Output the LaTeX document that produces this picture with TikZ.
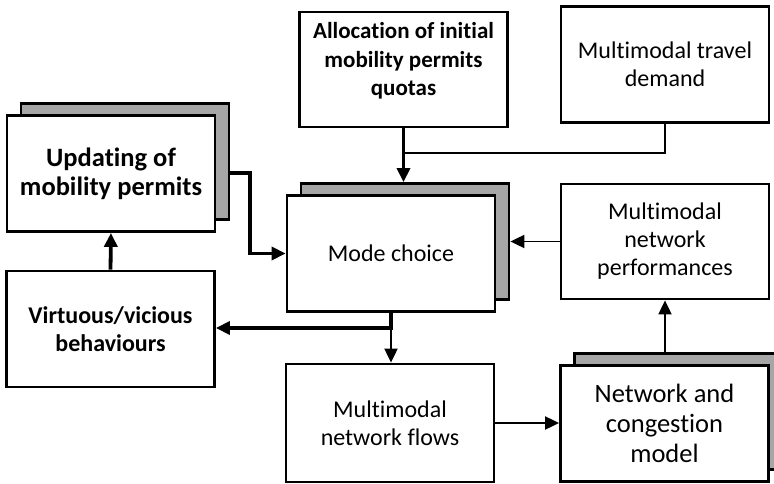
\documentclass[tikz,border=0pt]{standalone}
\usepackage{fontspec}
\setmainfont{Carlito}[Ligatures=CommonOff]
\usetikzlibrary{arrows.meta}
\definecolor{shadowgray}{HTML}{A6A6A6}
\begin{document}
\begin{tikzpicture}[x=1pt,y=-1pt,
  frontbox/.style={draw=black, line width=2.8pt, fill=white, rectangle,
    inner sep=0pt, align=center, minimum width=208pt, minimum height=116pt},
  backbox/.style={frontbox, fill=shadowgray},
  txt/.style={font=\fontsize{24}{28}\selectfont},
  txtbold/.style={font=\fontsize{24}{28}\selectfont\bfseries},
  txtbig/.style={font=\fontsize{26.5}{30}\selectfont},
  txtbigbold/.style={font=\fontsize{26.5}{29}\selectfont\bfseries},
  thinflow/.style={draw=black, line width=1.9pt, -{Triangle[length=14pt,width=13pt]}},
  thickflow/.style={draw=black, line width=3.8pt, -{Triangle[length=14pt,width=13pt]}},
  thinline/.style={draw=black, line width=1.9pt},
]
\clip (0,0) rectangle (774,484);
\fill[white] (0,0) rectangle (774,484);

% stacked boxes: grey copy behind, white box in front
\node[backbox] (updS) at (125,161.5) {};
\node[frontbox, txtbigbold] (upd) at (111,173.5) {Updating of\\mobility permits};

\node[backbox] (modeS) at (405,241.5) {};
\node[frontbox, txt] (mode) at (391,253.5) {Mode choice};

\node[backbox] (netS) at (678.5,411.5) {};
\node[frontbox, txtbig] (net) at (664.5,423.5) {Network and\\congestion\\model};

% single boxes
\node[frontbox, font=\fontsize{23}{28.5}\selectfont\bfseries, minimum height=115pt] (alloc) at (403.5,69.5)
  {\raisebox{8pt}[\height][\depth]{\begin{tabular}{@{}c@{}}Allocation of initial\\mobility permits\\quotas\end{tabular}}};
\node[frontbox, txt] (demand) at (665,64.5) {Multimodal travel\\demand};
\node[frontbox, txt, minimum height=115pt] (perf) at (665,241.5)
  {Multimodal\\network\\performances};
\node[frontbox, txtbold] (virt) at (110.5,329) {Virtuous/vicious\\behaviours};
\node[frontbox, txt, minimum height=118pt] (flows) at (390,423)
  {Multimodal\\network flows};

% junction points
\coordinate (bend) at (250,173);
\coordinate (join) at (403.5,153);
\coordinate (split) at (391,328);

% connectors
\draw[thickflow] (updS.east |- bend) -- (bend) |- (mode.west);
\draw[thickflow] (alloc.south) -- (alloc.south |- modeS.north);
\draw[thinline] (demand.south) |- (join);
\draw[thinflow] (perf.west) -- (modeS.east);
\draw[thickflow] (mode.south) -- (split) -- (split -| virt.east);
\draw[thinflow] (split) -- (split |- flows.north);
\draw[thickflow] (virt.north) -- (upd.south);
\draw[thinflow] (flows.east) -- (flows.east -| net.west);
\draw[thinflow] (perf.south |- netS.north) -- (perf.south);
\end{tikzpicture}
\end{document}
